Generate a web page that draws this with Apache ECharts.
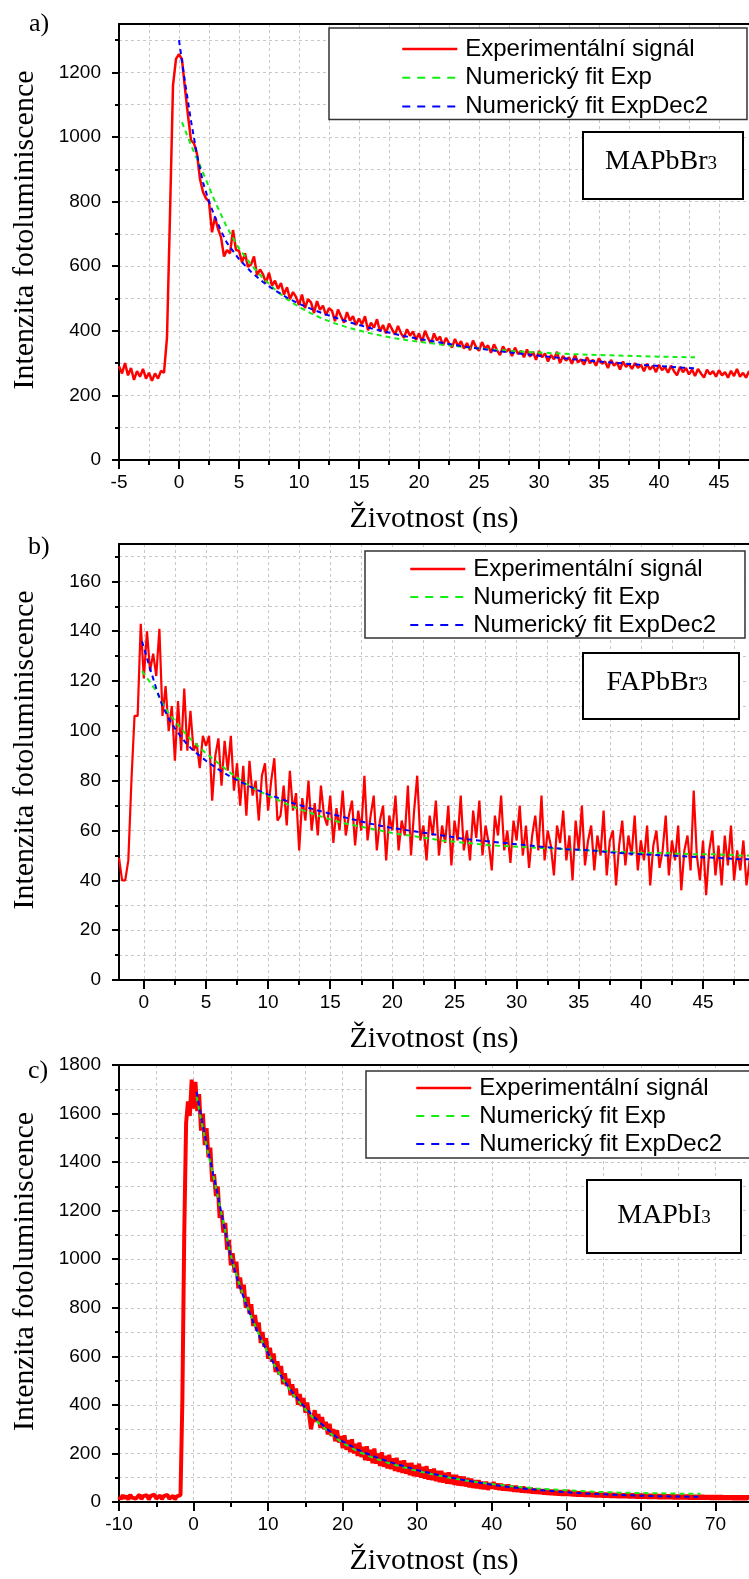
<!DOCTYPE html>
<html><head><meta charset="utf-8">
<script src="https://cdn.jsdelivr.net/npm/echarts@6.0.0/dist/echarts.min.js"></script>
<style>html,body{margin:0;padding:0;background:#fff}#chart{width:749px;height:1579px}</style>
</head><body><div id="chart"></div>
<script>
// ---------- data ----------
const legendNames = ['Experimentální signál', 'Numerický fit Exp', 'Numerický fit ExpDec2'];
const xTitle = 'Životnost (ns)';
const yTitle = 'Intenzita fotoluminiscence';
const panelLabels = ['a)', 'b)', 'c)'];
const sampleNames = ['MAPbBr', 'FAPbBr', 'MAPbI'];

// Panel a (MAPbBr3): signal sampled from -5 ns every 0.25 ns
const aStart = -5, aStep = 0.25;
const aSignal = [
/* -5 */ 290,268,300,262, /* -4 */ 285,248,275,258, /* -3 */ 282,252,270,245, /* -2 */ 268,252,276,270,
/* -1 */ 380,760,1160,1242, /* 0 */ 1257,1240,1150,1066, /* 1 */ 990,980,948,870, /* 2 */ 830,810,800,705,
/* 3 */ 752,716,690,630, /* 4 */ 650,640,712,650, /* 5 */ 648,612,640,598, /* 6 */ 605,630,572,590,
/* 7 */ 575,548,580,540, /* 8 */ 555,530,548,512, /* 9 */ 535,498,520,505, /* 10 */ 480,512,470,498,
/* 11 */ 488,455,492,465, /* 12 */ 478,448,470,462, /* 13 */ 430,466,445,425, /* 14 */ 458,432,445,418,
/* 15 */ 438,420,445,402, /* 16 */ 425,410,436,398, /* 17 */ 418,392,422,405, /* 18 */ 388,415,392,378,
/* 19 */ 405,385,398,372, /* 20 */ 392,365,400,378, /* 21 */ 360,392,370,382, /* 22 */ 355,378,362,348,
/* 23 */ 375,352,368,345, /* 24 */ 362,340,370,350, /* 25 */ 338,365,345,355, /* 26 */ 332,358,340,325,
/* 27 */ 352,335,345,322, /* 28 */ 348,328,338,318, /* 29 */ 342,320,335,310, /* 30 */ 338,318,330,305,
/* 31 */ 325,312,335,300, /* 32 */ 322,308,318,298, /* 33 */ 325,302,312,295, /* 34 */ 318,300,310,292,
/* 35 */ 315,298,305,285, /* 36 */ 310,292,302,280, /* 37 */ 305,288,298,282, /* 38 */ 300,285,295,275,
/* 39 */ 298,280,292,272, /* 40 */ 295,278,288,270, /* 41 */ 292,275,262,288, /* 42 */ 272,285,265,280,
/* 43 */ 260,282,268,255, /* 44 */ 280,265,275,258, /* 45 */ 278,262,272,255, /* 46 */ 276,260,282,258,
/* 47 */ 270,255,275,262
];
const aFitExp = [[0.25,1046],[1,975],[2,890],[3,800],[4,720],[5,655],[6,605],[7,563],[8,528],[9,498],[10,474],[11,454],[12,437],[13,423],[14,411],[15,401],[16,392],[17,384],[18,377],[19,371],[20,366],[22,357],[24,349],[26,342],[28,337],[30,333],[32,329],[34,326],[36,324],[38,322],[40,320],[43,318]];
const aFitExpDec2 = [[0,1300],[0.5,1170],[1,1050],[1.5,945],[2,860],[2.5,800],[3,752],[3.5,710],[4,672],[5,622],[6,583],[7,551],[8,525],[9,503],[10,484],[11,468],[12,454],[13,441],[14,429],[15,418],[16,408],[17,399],[18,390],[19,382],[20,375],[22,362],[24,350],[26,340],[28,331],[30,323],[32,315],[34,308],[36,302],[38,296],[40,291],[42,286],[43,284]];

// Panel b (FAPbBr3): signal sampled from -2 ns every 0.25 ns
const bStart = -2, bStep = 0.25;
const bSignal = [
/* -2 */ 49,40,40,48, /* -1 */ 80,106,106,143, /* 0 */ 121,140,124,131, /* 1 */ 122,141,106,118,
/* 2 */ 100,110,88,112, /* 3 */ 92,117,92,108, /* 4 */ 92,95,85,98, /* 5 */ 94,98,72,90,
/* 6 */ 97,78,96,84, /* 7 */ 98,76,87,70, /* 8 */ 86,66,88,74, /* 9 */ 80,64,82,87,
/* 10 */ 68,80,89,64, /* 11 */ 66,78,62,84, /* 12 */ 68,75,52,73, /* 13 */ 64,80,60,71,
/* 14 */ 58,78,66,62, /* 15 */ 74,55,69,60, /* 16 */ 76,58,66,72, /* 17 */ 54,68,60,82,
/* 18 */ 56,66,74,52, /* 19 */ 64,70,48,66, /* 20 */ 60,74,52,64, /* 21 */ 58,78,50,68,
/* 22 */ 82,56,62,48, /* 23 */ 66,58,72,50, /* 24 */ 62,55,70,46, /* 25 */ 64,56,74,52,
/* 26 */ 60,48,68,57, /* 27 */ 72,50,62,55, /* 28 */ 44,66,58,74, /* 29 */ 52,60,47,64,
/* 30 */ 56,70,50,62, /* 31 */ 45,58,66,52, /* 32 */ 74,48,60,54, /* 33 */ 42,62,55,68,
/* 34 */ 48,58,40,64, /* 35 */ 52,70,46,56, /* 36 */ 62,44,58,50, /* 37 */ 68,42,56,60,
/* 38 */ 38,54,64,46, /* 39 */ 58,50,66,44, /* 40 */ 56,48,62,38, /* 41 */ 54,60,45,52,
/* 42 */ 66,42,56,48, /* 43 */ 62,36,52,58, /* 44 */ 44,76,50,40, /* 45 */ 56,34,52,60,
/* 46 */ 42,54,38,58, /* 47 */ 46,62,40,52, /* 48 */ 44,56,38,48
];
const bFitExp = [[-0.15,124],[0.5,119.5],[1,116],[1.5,111],[2,107],[2.5,104],[3,101],[3.5,98],[4,95.5],[5,91],[6,87],[7,83],[8,79.5],[9,76.5],[10,74],[12,69.5],[14,66],[16,63],[18,61],[20,59],[22,57.5],[24,56],[26,55],[28,54],[30,53.5],[32,53],[34,52.5],[36,52],[38,51.5],[40,51],[42,51],[44,50.5],[46,50.5],[48,50],[48.7,50]];
const bFitExpDec2 = [[-0.15,136],[0.5,125],[1,117],[1.5,110],[2,105],[2.5,101],[3,97.5],[3.5,94.5],[4,92],[5,88],[6,84.5],[7,81.5],[8,79],[9,76.5],[10,74.5],[12,71],[14,68],[16,65.5],[18,63],[20,61],[22,59.5],[24,58],[26,56.5],[28,55.5],[30,54.5],[32,53.5],[34,52.5],[36,52],[38,51],[40,50.5],[42,50],[44,49.5],[46,49],[48,48.5],[48.7,48.5]];

// Panel c (MAPbI3): signal sampled from -10 ns every 0.25 ns
const cStart = -10, cStep = 0.25;
const cSignal = [
/* -10 */ 22,12,28,15, /* -9 */ 25,10,30,18, /* -8 */ 26,14,20,30, /* -7 */ 12,24,16,28,
/* -6 */ 10,25,18,30, /* -5 */ 14,22,27,12, /* -4 */ 24,16,29,13, /* -3 */ 20,26,11,23,
/* -2 */ 18,28,420,1100, /* -1 */ 1560,1650,1590,1740, /* 0 */ 1620,1730,1610,1680, /* 1 */ 1530,1600,1470,1540,
/* 2 */ 1420,1460,1320,1350, /* 3 */ 1260,1300,1170,1200, /* 4 */ 1110,1150,1040,1080, /* 5 */ 975,1025,945,990,
/* 6 */ 880,925,860,895, /* 7 */ 800,845,775,815, /* 8 */ 725,770,705,740, /* 9 */ 655,700,640,675,
/* 10 */ 590,635,578,612, /* 11 */ 535,580,525,560, /* 12 */ 485,530,478,508, /* 13 */ 440,485,432,468,
/* 14 */ 400,445,395,428, /* 15 */ 368,410,360,300, /* 16 */ 338,378,330,362, /* 17 */ 305,350,300,330,
/* 18 */ 278,322,272,300, /* 19 */ 250,295,245,272, /* 20 */ 222,275,215,255, /* 21 */ 205,258,200,240,
/* 22 */ 190,245,185,228, /* 23 */ 172,230,170,215, /* 24 */ 160,220,158,200, /* 25 */ 148,205,145,190,
/* 26 */ 138,195,135,180, /* 27 */ 128,182,124,170, /* 28 */ 120,172,116,160, /* 29 */ 110,162,106,152,
/* 30 */ 104,158,100,145, /* 31 */ 96,148,92,135, /* 32 */ 90,138,86,128, /* 33 */ 82,128,80,120,
/* 34 */ 76,122,74,112, /* 35 */ 70,112,68,105, /* 36 */ 66,104,64,98, /* 37 */ 60,96,58,90,
/* 38 */ 56,90,54,84, /* 39 */ 52,84,50,78, /* 40 */ 55,82,52,76, /* 41 */ 50,75,48,70,
/* 42 */ 47,72,45,66, /* 43 */ 43,66,42,62, /* 44 */ 40,63,39,58, /* 45 */ 38,58,36,55,
/* 46 */ 35,55,34,52, /* 47 */ 32,52,31,49, /* 48 */ 30,50,29,46, /* 49 */ 28,47,27,45,
/* 50 */ 27,49,26,44, /* 51 */ 25,43,24,42, /* 52 */ 24,42,23,40, /* 53 */ 23,40,22,39,
/* 54 */ 21,38,21,37, /* 55 */ 20,37,20,36, /* 56 */ 19,36,19,35, /* 57 */ 18,35,18,34,
/* 58 */ 18,34,17,33, /* 59 */ 17,33,16,32, /* 60 */ 16,33,16,31, /* 61 */ 15,31,15,30,
/* 62 */ 15,30,14,30, /* 63 */ 14,29,14,29, /* 64 */ 14,29,13,28, /* 65 */ 13,28,13,28,
/* 66 */ 13,28,12,27, /* 67 */ 12,27,12,27, /* 68 */ 12,27,12,26, /* 69 */ 12,26,11,26,
/* 70 */ 11,26,11,26, /* 71 */ 11,25,11,25, /* 72 */ 11,25,10,25, /* 73 */ 10,25,10,25,
/* 74 */ 10,25,10
];
const cFitExp = [[0.4,1670],[1,1575],[2,1430],[3,1295],[4,1150],[5,1015],[6,910],[7,822],[8,745],[9,674],[10,612],[11,555],[12,503],[13,458],[14,417],[15,381],[16,348],[17,319],[18,292],[19,266],[20,243],[22,209],[24,183],[26,162],[28,144],[30,128],[32,114],[34,102],[36,91],[38,82],[40,74],[42,67],[44,61],[46,56],[48,52],[50,48],[52,45],[54,42],[56,40],[58,38],[60,37],[62,36],[64,35],[66,34],[68,34]];
const cFitExpDec2 = [[0.4,1690],[1,1590],[2,1440],[3,1300],[4,1150],[5,1010],[6,905],[7,818],[8,742],[9,672],[10,612],[11,557],[12,507],[13,463],[14,423],[15,388],[16,355],[17,326],[18,299],[19,272],[20,250],[22,216],[24,190],[26,168],[28,149],[30,132],[32,117],[34,104],[36,92],[38,81],[40,71],[42,63],[44,56],[46,50],[48,45],[50,40],[52,36],[54,33],[56,30],[58,28],[60,26],[62,24],[64,23],[66,22],[68,21]];

// axis ranges and ticks
const aXRange = [-5, 47.5], bXRange = [-2, 48.7], cXRange = [-10, 74.5];
const aXMajor = [-5,0,5,10,15,20,25,30,35,40,45];
const aXMinor = [-2.5,2.5,7.5,12.5,17.5,22.5,27.5,32.5,37.5,42.5];
const bXMajor = [0,5,10,15,20,25,30,35,40,45];
const bXMinor = [2.5,7.5,12.5,17.5,22.5,27.5,32.5,37.5,42.5,47.5];
const cXMajor = [-10,0,10,20,30,40,50,60,70];
const cXMinor = [-5,5,15,25,35,45,55,65];
const aYMax = 1350, bYMax = 175, cYMax = 1800;
const aYMajor = [0,200,400,600,800,1000,1200];
const bYMajor = [0,20,40,60,80,100,120,140,160];
const cYMajor = [0,200,400,600,800,1000,1200,1400,1600,1800];
const aYInt = 200, bYInt = 20, cYInt = 200;

// ---------- chart ----------
const SANS = 'Liberation Sans, Arial, sans-serif';
const SERIF = 'Liberation Serif, Times New Roman, serif';
const black = {color: '#000', width: 2};
const gridLine = {color: '#c8c8c8', width: 1, type: [3, 3]};
const plain = v => String(v);

function sampled(start, step, vals) {
  return vals.map((v, i) => [Math.round((start + i * step) * 100) / 100, v]);
}

const legendItems = [
  {name: legendNames[0], lineStyle: {width: 2.5, type: 'solid'}},
  {name: legendNames[1], lineStyle: {width: 2, type: [8, 7]}},
  {name: legendNames[2], lineStyle: {width: 2, type: [8, 7]}}
];

const panels = [
  {top: 24, height: 436, xr: aXRange, xMaj: aXMajor, xMin: aXMinor, yMax: aYMax, yInt: aYInt, yMaj: aYMajor,
   sig: sampled(aStart, aStep, aSignal), fe: aFitExp, fd: aFitExpDec2, sigW: 2.5,
   legend: {left: 329, top: 28, padding: [9, 39, 1, 72], itemGap: 4.7},
   box: {x: 583, y: 132, w: 160, h: 67, tx: 661, ty: 162}, lab: {x: 29, y: 24}},
  {top: 544, height: 436, xr: bXRange, xMaj: bXMajor, xMin: bXMinor, yMax: bYMax, yInt: bYInt, yMaj: bYMajor,
   sig: sampled(bStart, bStep, bSignal), fe: bFitExp, fd: bFitExpDec2, sigW: 2.2,
   legend: {left: 365, top: 551, padding: [6, 29, 1, 44], itemGap: 4},
   box: {x: 583, y: 653, w: 156, h: 66, tx: 657, ty: 683}, lab: {x: 28, y: 547}},
  {top: 1065, height: 437, xr: cXRange, xMaj: cXMajor, xMin: cXMinor, yMax: cYMax, yInt: cYInt, yMaj: cYMajor,
   sig: sampled(cStart, cStep, cSignal), fe: cFitExp, fd: cFitExpDec2, sigW: 4,
   legend: {left: 366, top: 1071, padding: [5, 28, 2, 49], itemGap: 4},
   box: {x: 587, y: 1180, w: 154, h: 73, tx: 664, ty: 1216}, lab: {x: 28, y: 1071}}
];

const option = {
  animation: false,
  backgroundColor: '#fff',
  grid: [], xAxis: [], yAxis: [], series: [], legend: [], graphic: []
};

panels.forEach((p, i) => {
  option.grid.push({left: 119, right: 0, top: p.top, height: p.height, containLabel: false, outerBoundsMode: 'none', show: false});
  option.xAxis.push({
    type: 'value', gridIndex: i, position: 'bottom', min: p.xr[0], max: p.xr[1],
    axisLine: {show: true, onZero: false, lineStyle: black},
    axisTick: {show: true, inside: false, length: 9, customValues: p.xMaj, lineStyle: black},
    axisLabel: {show: true, customValues: p.xMaj, margin: 13, color: '#000', fontSize: 19, fontFamily: SANS, formatter: plain},
    splitLine: {show: true, lineStyle: gridLine},
    name: xTitle, nameLocation: 'middle', nameGap: 44,
    nameTextStyle: {fontFamily: SERIF, fontSize: 30, color: '#000'}
  });
  option.xAxis.push({
    type: 'value', gridIndex: i, position: 'bottom', min: p.xr[0], max: p.xr[1],
    axisLine: {show: false, onZero: false},
    axisTick: {show: true, inside: false, length: 5, customValues: p.xMin, lineStyle: black},
    axisLabel: {show: false},
    splitLine: {show: true, lineStyle: gridLine}
  });
  option.xAxis.push({
    type: 'value', gridIndex: i, position: 'top', min: p.xr[0], max: p.xr[1],
    axisLine: {show: true, onZero: false, lineStyle: black},
    axisTick: {show: false}, axisLabel: {show: false}, splitLine: {show: false}
  });
  option.yAxis.push({
    type: 'value', gridIndex: i, position: 'left', min: 0, max: p.yMax, interval: p.yInt,
    axisLine: {show: true, onZero: false, lineStyle: black},
    axisTick: {show: true, inside: false, length: 7, customValues: p.yMaj, lineStyle: black},
    minorTick: {show: true, splitNumber: 2, length: 4, lineStyle: black},
    axisLabel: {show: true, customValues: p.yMaj, margin: 18, color: '#000', fontSize: 19, fontFamily: SANS, formatter: plain},
    splitLine: {show: true, lineStyle: gridLine},
    minorSplitLine: {show: true, lineStyle: gridLine},
    name: yTitle, nameLocation: 'middle', nameGap: 79, nameRotate: 90,
    nameTextStyle: {fontFamily: SERIF, fontSize: 30, color: '#000', padding: [0, 0, 0, 24]}
  });
  const common = {type: 'line', xAxisIndex: 3 * i, yAxisIndex: i, symbol: 'none', showSymbol: false, silent: true, emphasis: {disabled: true}};
  option.series.push(Object.assign({}, common, {name: legendNames[0], data: p.sig, z: 2,
    lineStyle: {color: '#ff0000', width: p.sigW}, itemStyle: {color: '#ff0000'}}));
  option.series.push(Object.assign({}, common, {name: legendNames[1], data: p.fe, z: 3,
    lineStyle: {color: '#11ee11', width: 2, type: [5, 4]}, itemStyle: {color: '#11ee11'}}));
  option.series.push(Object.assign({}, common, {name: legendNames[2], data: p.fd, z: 4,
    lineStyle: {color: '#0000ff', width: 2, type: [5, 4]}, itemStyle: {color: '#0000ff'}}));
  option.legend.push({
    show: true, data: legendItems, orient: 'vertical', left: p.legend.left, top: p.legend.top,
    padding: p.legend.padding, itemGap: p.legend.itemGap, itemWidth: 55, itemHeight: 14,
    itemStyle: {opacity: 0, borderWidth: 0},
    textStyle: {fontFamily: SANS, fontSize: 24, color: '#000', lineHeight: 24, padding: [0, 0, 0, 3]},
    borderColor: '#333', borderWidth: 1.5, backgroundColor: '#fff', selectedMode: false, z: 20
  });
  option.graphic.push({type: 'rect', z: 100, shape: {x: p.box.x, y: p.box.y, width: p.box.w, height: p.box.h},
    style: {fill: '#fff', stroke: '#000', lineWidth: 2}});
  option.graphic.push({type: 'text', z: 101, x: p.box.tx, y: p.box.ty,
    style: {text: '{m|' + sampleNames[i] + '}{s|3}', align: 'center', verticalAlign: 'middle',
      textAlign: 'center', textVerticalAlign: 'middle',
      rich: {m: {fontSize: 28, fontFamily: SERIF, fill: '#000', lineHeight: 28, verticalAlign: 'bottom'},
             s: {fontSize: 19, fontFamily: SERIF, fill: '#000', lineHeight: 19, verticalAlign: 'bottom', padding: [0, 0, 2, 0]}}}});
  option.graphic.push({type: 'text', z: 101, x: p.lab.x, y: p.lab.y,
    style: {text: panelLabels[i], font: '26px Liberation Serif', fill: '#000', align: 'left', verticalAlign: 'middle',
      textAlign: 'left', textVerticalAlign: 'middle'}});
});

const chart = echarts.init(document.getElementById('chart'), null, {renderer: 'canvas', width: 749, height: 1579});
chart.setOption(option);
</script>
</body></html>
